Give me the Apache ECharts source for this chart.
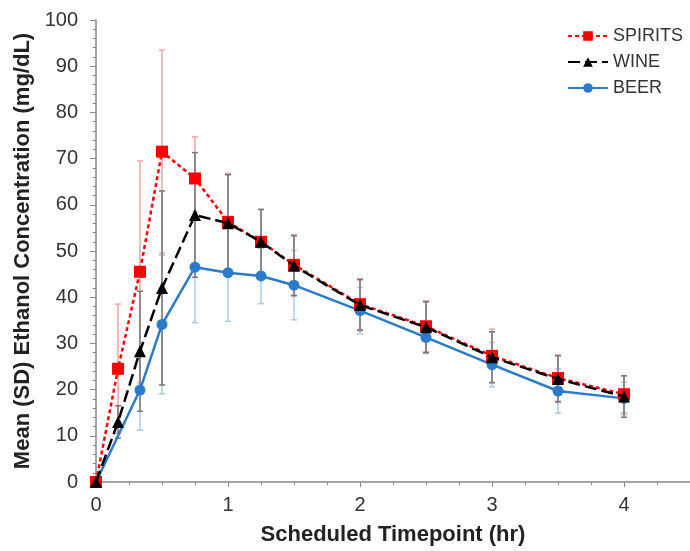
<!DOCTYPE html>
<html>
<head>
<meta charset="utf-8">
<script src="https://cdn.jsdelivr.net/npm/echarts@6/dist/echarts.min.js"></script>
<style>html,body{margin:0;padding:0;background:#fff;}#c{width:690px;height:551px;}</style>
</head>
<body>
<div id="c"></div>
<script>
var timesSW = [0, 0.167, 0.333, 0.5, 0.75, 1, 1.25, 1.5, 2, 2.5, 3, 3.5, 4];
var spiritsMean = [0, 24.5, 45.5, 71.5, 65.7, 56.3, 52, 47, 38.5, 33.7, 27.3, 22.5, 19];
var spiritsSD = [0, 14, 24, 22, 9, 10.5, 7, 6.5, 5.5, 5.5, 5.8, 5, 4];
var wineMean = [0, 13, 28.3, 42, 57.8, 56, 52, 46.8, 38.3, 33.5, 27, 22.3, 18.5];
var wineSD = [0, 3.5, 13, 21, 13.5, 10.5, 7, 6.5, 5.5, 5.5, 5.5, 5, 4.5];
var timesBeer = [0, 0.333, 0.5, 0.75, 1, 1.25, 1.5, 2, 2.5, 3, 3.5, 4];
var beerMean = [0, 19.9, 34.1, 46.5, 45.3, 44.6, 42.6, 37.1, 31.3, 25.4, 19.7, 18.1];
var beerSD = [0, 8.7, 15, 12, 10.5, 6, 7.5, 5, 3.5, 4.8, 4.8, 3.5];
var xTicks = [0, 1, 2, 3, 4];
var yTicks = [0, 10, 20, 30, 40, 50, 60, 70, 80, 90, 100];

function pts(t, m) { return t.map(function (x, i) { return [x, m[i]]; }); }
function errs(t, m, s) { return t.map(function (x, i) { return [x, m[i] - s[i], m[i] + s[i]]; }); }
function errSeries(data, color) {
  return {
    type: 'custom', silent: true, z: 1,
    data: data,
    encode: { x: 0, y: [1, 2] },
    renderItem: function (params, api) {
      if (api.value(2) - api.value(1) <= 0) return null;
      var lo = api.coord([api.value(0), api.value(1)]);
      var hi = api.coord([api.value(0), api.value(2)]);
      var w = 3;
      var st = { stroke: color, lineWidth: 1.5 };
      return { type: 'group', children: [
        { type: 'line', shape: { x1: lo[0], y1: lo[1], x2: hi[0], y2: hi[1] }, style: st },
        { type: 'line', shape: { x1: lo[0] - w, y1: lo[1], x2: lo[0] + w, y2: lo[1] }, style: st },
        { type: 'line', shape: { x1: hi[0] - w, y1: hi[1], x2: hi[0] + w, y2: hi[1] }, style: st }
      ]};
    }
  };
}
var chart = echarts.init(document.getElementById('c'));
var font = '"Liberation Sans", Arial, sans-serif';
chart.setOption({
  animation: false,
  textStyle: { fontFamily: font },
  grid: { left: 96, right: 0, top: 20, bottom: 65 },
  legend: {
    orient: 'vertical', right: 2, top: 22, itemWidth: 40, itemHeight: 12, itemGap: 8,
    textStyle: { fontSize: 18, color: '#333', fontFamily: font },
    data: ['SPIRITS', 'WINE', 'BEER']
  },
  xAxis: {
    type: 'value', min: 0, max: 4.5, interval: 1,
    name: 'Scheduled Timepoint (hr)', nameLocation: 'middle', nameGap: 42,
    nameTextStyle: { fontSize: 22, fontWeight: 'bold', color: '#222', fontFamily: font },
    axisLine: { lineStyle: { color: '#888', width: 1.5 } },
    axisTick: { show: true, length: 5, lineStyle: { color: '#888' } },
    minorTick: { show: true, splitNumber: 4, length: 3, lineStyle: { color: '#888' } },
    splitLine: { show: false },
    axisLabel: { fontSize: 20, color: '#333', margin: 13, showMaxLabel: false,
      formatter: function (v) { return xTicks.indexOf(v) >= 0 ? String(v) : ''; } }
  },
  yAxis: {
    type: 'value', min: 0, max: 100, interval: 10,
    name: 'Mean (SD) Ethanol Concentration (mg/dL)', nameLocation: 'middle', nameGap: 60,
    nameTextStyle: { fontSize: 22, fontWeight: 'bold', color: '#222', fontFamily: font },
    axisLine: { show: true, lineStyle: { color: '#888', width: 1.5 } },
    axisTick: { show: true, length: 6, lineStyle: { color: '#888' } },
    minorTick: { show: true, splitNumber: 5, length: 3, lineStyle: { color: '#888' } },
    splitLine: { show: false },
    axisLabel: { fontSize: 20, color: '#333', margin: 18,
      formatter: function (v) { return yTicks.indexOf(v) >= 0 ? String(v) : ''; } }
  },
  series: [
    errSeries(errs(timesBeer, beerMean, beerSD), '#a9cbe6'),
    errSeries(errs(timesSW, spiritsMean, spiritsSD), '#f2a3a3'),
    errSeries(errs(timesSW, wineMean, wineSD), '#777777'),
    { name: 'BEER', type: 'line', z: 3, data: pts(timesBeer, beerMean), symbol: 'circle', symbolSize: 11,
      itemStyle: { color: '#2a7bc9' }, lineStyle: { color: '#2a7bc9', width: 2.5 } },
    { name: 'SPIRITS', type: 'line', z: 4, data: pts(timesSW, spiritsMean), symbol: 'rect', symbolSize: 12,
      itemStyle: { color: '#ff0000' }, lineStyle: { color: '#ff0000', width: 2.5, type: [4, 3] } },
    { name: 'WINE', type: 'line', z: 5, data: pts(timesSW, wineMean), symbol: 'triangle', symbolSize: 12,
      itemStyle: { color: '#000000' }, lineStyle: { color: '#000000', width: 2.5, type: [12, 5] } }
  ]
});
</script>
</body>
</html>
